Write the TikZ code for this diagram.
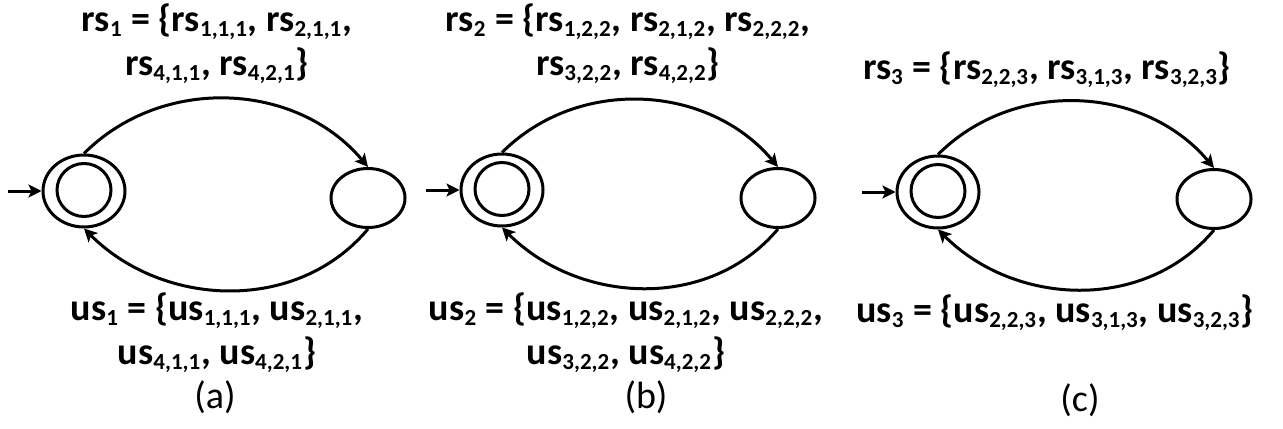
\documentclass[tikz,border=0pt]{standalone}
\usepackage{fontspec}
\setmainfont{Carlito}
\usetikzlibrary{shapes.geometric,arrows.meta,positioning}
\newcommand{\rsub}[1]{rs\textsubscript{\fontsize{11.5}{12}\selectfont #1}}
\newcommand{\usub}[1]{us\textsubscript{\fontsize{11.5}{12}\selectfont #1}}

\begin{document}
\begin{tikzpicture}[x=0.5pt, y=0.5pt,
    state/.style={draw, ellipse, line width=1.5pt, inner sep=0pt},
    lbl/.style={font=\fontsize{19}{22}\selectfont\bfseries, align=center, inner sep=0pt},
    subcap/.style={font=\fontsize{19}{20}\selectfont, inner sep=0pt},
    arr/.style={-{Stealth[length=6.5pt, width=6.5pt, inset=1.5pt]}, line width=1.5pt}
]
\useasboundingbox (0,0) rectangle (1283,-428);

% (a)
\node[state, minimum width=41pt, minimum height=36pt] (qa0) at (84,-191) {};
\node[state, minimum width=27pt, minimum height=26.5pt] (qa0in) at (84,-190) {};
\node[state, minimum width=37pt, minimum height=29.5pt] (qa1) at (368,-198) {};
\coordinate (ia) at (8,-191);
\draw[arr] (ia) -- (qa0.west);
\draw[arr] (qa0.north) to[out=45, in=130] (qa1.north);
\draw[arr] (qa1.south) to[out=-130, in=-45] (qa0.south);
\node[lbl] (rsa) at (217,-44) {\rsub{1} = \{\rsub{1,1,1}, \rsub{2,1,1},\\ \rsub{4,1,1}, \rsub{4,2,1}\}};
\node[lbl] (usa) at (217,-333) {\usub{1} = \{\usub{1,1,1}, \usub{2,1,1},\\ \usub{4,1,1}, \usub{4,2,1}\}};
\node[subcap] (capa) at (215,-397) {(a)};

% (b)
\node[state, minimum width=41pt, minimum height=36pt] (qb0) at (502,-190) {};
\node[state, minimum width=27pt, minimum height=26.5pt] (qb0in) at (502,-189) {};
\node[state, minimum width=37pt, minimum height=29.5pt] (qb1) at (778,-198) {};
\coordinate (ib) at (426,-190);
\draw[arr] (ib) -- (qb0.west);
\draw[arr] (qb0.north) to[out=45, in=130] (qb1.north);
\draw[arr] (qb1.south) to[out=-130, in=-45] (qb0.south);
\node[lbl] (rsb) at (628,-44) {\rsub{2} = \{\rsub{1,2,2}, \rsub{2,1,2}, \rsub{2,2,2},\\ \rsub{3,2,2}, \rsub{4,2,2}\}};
\node[lbl] (usb) at (626,-333) {\usub{2} = \{\usub{1,2,2}, \usub{2,1,2}, \usub{2,2,2},\\ \usub{3,2,2}, \usub{4,2,2}\}};
\node[subcap] (capb) at (646,-397) {(b)};

% (c)
\node[state, minimum width=41pt, minimum height=36pt] (qc0) at (938,-192) {};
\node[state, minimum width=27pt, minimum height=26.5pt] (qc0in) at (938,-191) {};
\node[state, minimum width=37pt, minimum height=29.5pt] (qc1) at (1214,-199) {};
\coordinate (ic) at (862,-192);
\draw[arr] (ic) -- (qc0.west);
\draw[arr] (qc0.north) to[out=45, in=130] (qc1.north);
\draw[arr] (qc1.south) to[out=-130, in=-45] (qc0.south);
\node[lbl] (rsc) at (1047,-70) {\rsub{3} = \{\rsub{2,2,3}, \rsub{3,1,3}, \rsub{3,2,3}\}};
\node[lbl] (usc) at (1055,-313) {\usub{3} = \{\usub{2,2,3}, \usub{3,1,3}, \usub{3,2,3}\}};
\node[subcap] (capc) at (1080,-400) {(c)};
\end{tikzpicture}
\end{document}
